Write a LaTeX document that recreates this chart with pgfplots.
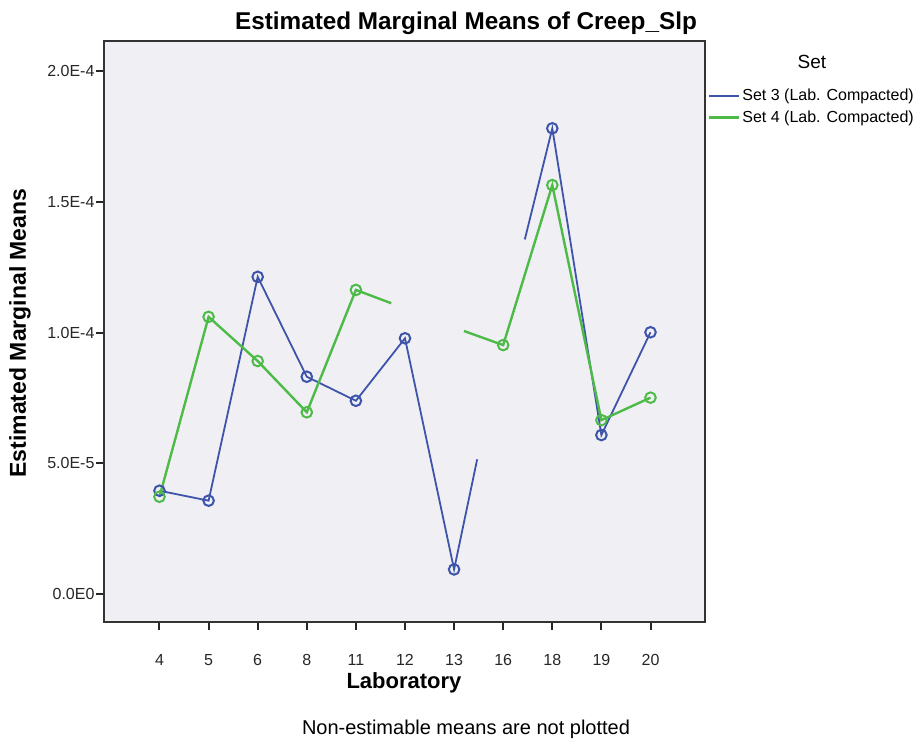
\documentclass[border=0pt]{standalone}
\usepackage{pgfplots}
\pgfplotsset{compat=1.18}
\usepackage{fontspec}
\setmainfont{Liberation Sans}
\definecolor{spssblue}{RGB}{62,84,170}
\definecolor{spssgreen}{RGB}{78,186,72}
\definecolor{plotbg}{RGB}{240,240,244}
\begin{document}
\begin{tikzpicture}[x=1pt,y=1pt]
\path[use as bounding box] (-104,-121) rectangle (817,622);
\begin{axis}[
  at={(0,0)}, anchor=south west,
  scale only axis, width=601pt, height=581pt,
  xmin=-1.13, xmax=11.11,
  ymin=-1.07e-5, ymax=2.115e-4,
  axis background/.style={fill=plotbg},
  axis line style={line width=2pt, black!80},
  tick align=outside, major tick length=8pt,
  tick style={line width=2pt, black!85},
  xtick pos=bottom, ytick pos=left,
  xtick={0,1,2,3,4,5,6,7,8,9,10},
  xticklabels={4,5,6,8,11,12,13,16,18,19,20},
  ytick={0,5e-5,1e-4,1.5e-4,2e-4},
  yticklabels={0.0E0,5.0E-5,1.0E-4,1.5E-4,2.0E-4},
  scaled y ticks=false,
  ticklabel style={font=\fontsize{16}{19}\selectfont, text=black!85},
  xticklabel style={yshift=-21pt},
  yticklabel style={xshift=2pt},
  legend style={draw=none, fill=none, at={(axis description cs:1.004,0.921)}, anchor=north west,
    inner sep=0pt, row sep=5pt, font=\fontsize{16}{19}\selectfont,
    nodes={inner sep=2pt, anchor=west}},
  legend cell align=left,
  clip=false,
]
% Set 3 line
\addplot[spssblue, line width=1.8pt, no marks, unbounded coords=jump,
  legend image code/.code={\draw[spssblue, line width=2pt] (0pt,0pt) -- (30pt,0pt);}] coordinates {
 (0,3.95e-5) (1,3.57e-5) (2,1.213e-4) (3,8.31e-5) (4,7.39e-5) (5,9.78e-5) (6,0.94e-5) (6.47,5.15e-5)
 (6.9,nan)
 (7.44,1.356e-4) (8,1.781e-4) (9,6.08e-5) (10,1.001e-4)
};
\addlegendentry{Set 3 (Lab. Compacted)}
% Set 4 line
\addplot[spssgreen, line width=2.4pt, no marks, unbounded coords=jump,
  legend image code/.code={\draw[spssgreen, line width=2.8pt] (0pt,0pt) -- (30pt,0pt);}] coordinates {
 (0,3.72e-5) (1,1.060e-4) (2,8.91e-5) (3,6.95e-5) (4,1.163e-4) (4.72,1.112e-4)
 (5.5,nan)
 (6.2,1.006e-4) (7,9.52e-5) (8,1.564e-4) (9,6.65e-5) (10,7.51e-5)
};
\addlegendentry{Set 4 (Lab. Compacted)}
% markers
\addplot[forget plot, only marks, mark=o, mark size=5.3pt, spssblue, line width=2pt] coordinates {
 (0,3.95e-5) (1,3.57e-5) (2,1.213e-4) (3,8.31e-5) (4,7.39e-5) (5,9.78e-5) (6,0.94e-5)
 (8,1.781e-4) (9,6.08e-5) (10,1.001e-4)
};
\addplot[forget plot, only marks, mark=o, mark size=5.3pt, spssgreen, line width=2pt] coordinates {
 (0,3.72e-5) (1,1.060e-4) (2,8.91e-5) (3,6.95e-5) (4,1.163e-4)
 (7,9.52e-5) (8,1.564e-4) (9,6.65e-5) (10,7.51e-5)
};
\end{axis}
\node[font=\fontsize{24.3}{28}\selectfont\bfseries] at (362,599) {Estimated Marginal Means of Creep\_Slp};
\node[font=\fontsize{23}{27}\selectfont\bfseries, rotate=90] at (-84,289) {Estimated Marginal Means};
\node[font=\fontsize{22}{26}\selectfont\bfseries] at (300,-61) {Laboratory};
\node[font=\fontsize{20}{24}\selectfont] at (362,-107) {Non-estimable means are not plotted};
\node[font=\fontsize{19}{23}\selectfont] at (708,560) {Set};
\end{tikzpicture}
\end{document}
